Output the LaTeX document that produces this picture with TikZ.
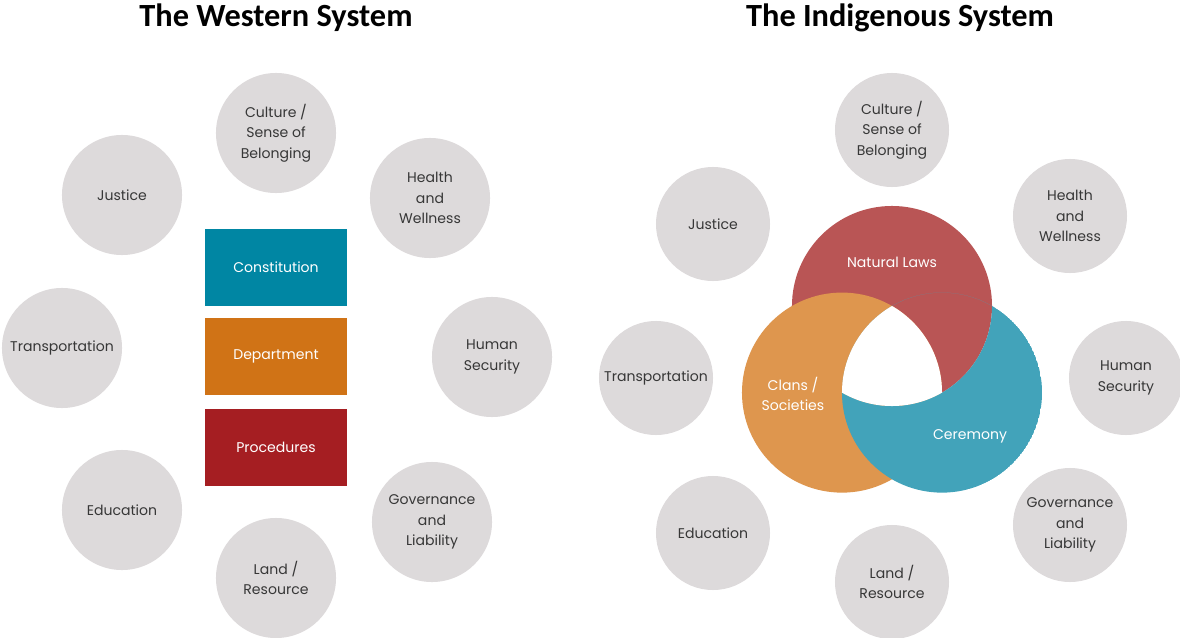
\documentclass[tikz,border=0pt]{standalone}
\usepackage{fontspec}
\setmainfont{Poppins}
\newfontfamily\headfont{Carlito}
\usetikzlibrary{positioning}
\definecolor{bubblegrey}{RGB}{221,218,219}
\definecolor{bubbletext}{RGB}{55,55,55}
\definecolor{consblue}{RGB}{0,134,163}
\definecolor{deptorange}{RGB}{208,115,22}
\definecolor{procred}{RGB}{165,30,34}
\definecolor{lawred}{RGB}{185,85,85}
\definecolor{clanorange}{RGB}{222,150,78}
\definecolor{cerblue}{RGB}{66,163,186}
\tikzset{
    systitle/.style = {anchor=base,font=\headfont\bfseries\fontsize{23}{27}\selectfont},
    bubble/.style = {circle, fill=bubblegrey, text=bubbletext, align=center, inner sep=0pt, minimum size=3cm, font=\fontsize{10}{14.5}\selectfont},
    sbubble/.style = {bubble, minimum size=2.85cm},
    block/.style = {rectangle, text=white, minimum width=3.55cm, minimum height=1.93cm, font=\fontsize{10}{12}\selectfont},
    ringtext/.style = {text=white, align=center, font=\fontsize{10}{14}\selectfont},
    ring/.style = {radius=2.5cm}
}

\begin{document}
\begin{tikzpicture}[x=0.025cm,y=-0.025cm]
\useasboundingbox[fill=white] (0,0) rectangle (1180,638);
\node[systitle] at (276,27) (wtitle) {The Western System};
\node[systitle] at (900,27) (ititle) {The Indigenous System};
%
\node[bubble] at (276,133) (wcult) {Culture /\\Sense of\\Belonging};
\node[bubble] at (122,195) (wjust) {Justice};
\node[bubble] at (430,198) (wheal) {Health\\and\\Wellness};
\node[bubble] at (62,348) (wtran) {Transportation};
\node[bubble] at (492,357) (whums) {Human\\Security};
\node[bubble] at (122,510) (wedu) {Education};
\node[bubble] at (432,522) (wgov) {Governance\\and\\Liability};
\node[bubble] at (276,578) (wland) {Land /\\Resource};
%
\node[block,fill=consblue] at (276,267.5) (cons) {Constitution};
\node[block,fill=deptorange] at (276,356.5) (dept) {Department};
\node[block,fill=procred] at (276,447.5) (proc) {Procedures};
%
\node[sbubble] at (892,130) (icult) {Culture /\\Sense of\\Belonging};
\node[sbubble] at (713,224) (ijust) {Justice};
\node[sbubble] at (1070,216) (iheal) {Health\\and\\Wellness};
\node[sbubble] at (656,378) (itran) {Transportation};
\node[sbubble] at (1126,378) (ihums) {Human\\Security};
\node[sbubble] at (713,533) (iedu) {Education};
\node[sbubble] at (1070,525) (igov) {Governance\\and\\Liability};
\node[sbubble] at (892,582) (iland) {Land /\\Resource};
%
% three rings, each one over the next
\coordinate (law) at (892,306);
\coordinate (clan) at (842,392.6);
\coordinate (cer) at (942,392.6);
\fill[lawred] (law) circle[ring];
\fill[clanorange] (clan) circle[ring];
\begin{scope}
\clip (cer) circle[ring];
\fill[cerblue,even odd rule] (cer) circle[ring] (law) circle[ring];
\clip (clan) circle[ring];
\fill[white] (law) circle[ring];
\end{scope}
\node[ringtext] at (892,262) (laws) {Natural Laws};
\node[ringtext] at (793,394) (clans) {Clans /\\Societies};
\node[ringtext] at (970,436) (cere) {Ceremony};

\end{tikzpicture}
\end{document}
